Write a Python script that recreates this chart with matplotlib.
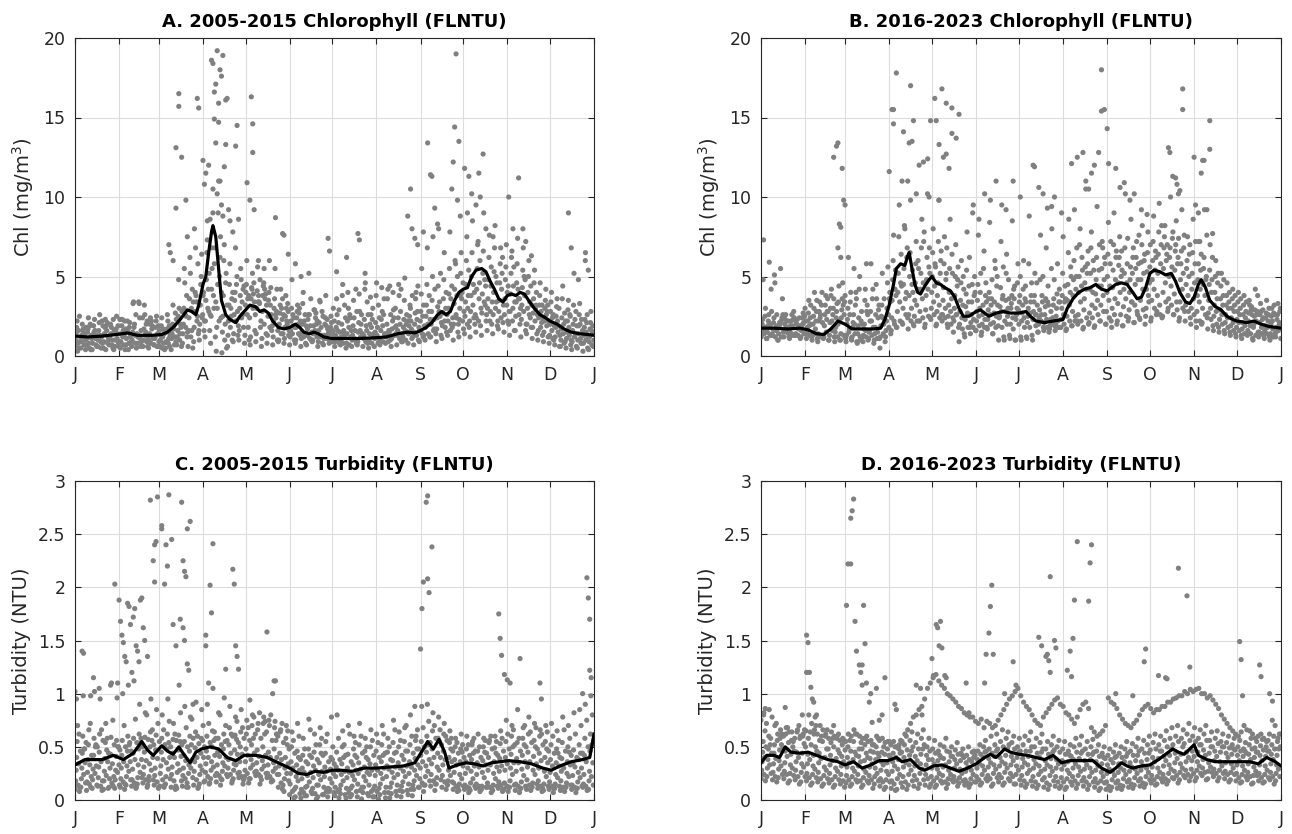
import matplotlib
matplotlib.use("Agg")
import matplotlib.pyplot as plt

plt.rcParams['font.family'] = ['DejaVu Sans']

MONTH_LABELS = ["J", "F", "M", "A", "M", "J", "J", "A", "S", "O", "N", "D", "J"]
MONTH_START_DAYS = [1, 32, 60, 91, 121, 152, 182, 213, 244, 274, 305, 335, 366]

TITLES = ["A. 2005-2015 Chlorophyll (FLNTU)", "B. 2016-2023 Chlorophyll (FLNTU)",
          "C. 2005-2015 Turbidity (FLNTU)", "D. 2016-2023 Turbidity (FLNTU)"]
YLABELS = ["Chl (mg/m$^3$)", "Chl (mg/m$^3$)", "Turbidity (NTU)", "Turbidity (NTU)"]
CHL_TICKS = [0, 5, 10, 15, 20]
TURB_TICKS = [0, 0.5, 1, 1.5, 2, 2.5, 3]
TURB_TICK_LABELS = ["0", "0.5", "1", "1.5", "2", "2.5", "3"]

# Daily records sampled ~every 4 days; each string = one record track, "|" separates months.
# ---------------- Panel A: Chl 2005-2015 ----------------
A_TRACKS = [
    "0.6 0.5 0.7 0.4 0.6 0.5 0.7 0.6 | 0.5 0.7 0.6 0.8 0.6 0.5 0.7 | 0.6 0.5 0.4 0.7 0.8 0.6 0.9 1.0 | 1.2 0.8 0.3 0.2 0.6 0.9 1.0 | 0.8 0.7 0.9 0.6 0.8 0.7 0.9 0.8 | 0.7 0.8 0.6 0.7 0.9 0.6 0.7 0.8 | 0.6 0.7 0.5 0.6 0.7 0.6 0.5 | 0.6 0.7 0.8 0.6 0.7 0.9 0.8 0.7 | 0.9 1.0 1.2 0.9 1.1 1.3 1.0 1.2 | 1.4 1.2 1.5 1.3 1.6 1.4 1.7 | 1.5 1.3 1.6 1.2 1.4 1.1 1.0 0.9 | 0.8 0.7 0.6 0.5 0.4 0.5 0.3 0.4",
    "1.0 0.9 1.1 0.8 1.0 0.9 1.2 1.0 | 0.9 1.1 1.0 1.2 1.0 0.9 1.1 | 1.0 0.9 1.1 1.2 1.4 1.6 1.8 2.0 | 2.2 2.5 1.8 1.5 1.3 1.4 1.6 | 1.3 1.2 1.4 1.1 1.3 1.2 1.0 1.1 | 1.2 1.0 1.1 1.3 1.0 0.9 1.1 1.0 | 0.9 1.0 0.8 1.0 0.9 1.1 1.0 | 1.1 1.0 1.2 1.1 1.3 1.2 1.4 1.5 | 1.6 1.8 2.0 1.7 1.9 2.2 2.0 2.3 | 2.5 2.8 2.4 2.7 3.0 2.6 2.8 | 2.6 2.8 2.5 2.3 2.0 1.8 1.6 1.5 | 1.3 1.2 1.0 1.1 0.9 1.0 0.8 0.9",
    "1.4 1.3 1.5 1.2 1.6 1.4 1.3 1.5 | 1.4 1.6 1.5 1.3 1.7 1.4 1.2 | 1.3 1.5 1.4 1.6 2.0 2.4 2.8 3.2 | 3.5 4.2 3.0 2.5 2.2 2.6 3.0 | 3.2 3.6 3.0 2.8 2.5 2.2 2.0 1.8 | 1.6 1.8 1.5 1.7 1.4 1.6 1.3 1.4 | 1.3 1.2 1.4 1.3 1.5 1.3 1.4 | 1.5 1.6 1.4 1.7 1.6 1.8 1.9 2.0 | 2.2 2.5 2.8 2.4 2.7 3.0 3.3 3.0 | 3.4 3.8 4.2 3.9 3.6 4.0 3.5 | 3.6 3.9 3.4 3.2 3.0 2.7 2.4 2.2 | 2.0 1.8 1.7 1.5 1.6 1.4 1.3 1.2",
    "1.8 2.0 1.7 1.9 2.1 1.8 2.0 1.7 | 1.9 2.2 3.3 3.4 3.2 2.0 1.8 | 1.9 1.7 2.0 2.5 3.0 3.6 4.0 4.5 | 4.8 5.5 4.5 3.8 3.2 3.5 3.8 | 4.0 4.3 4.1 3.8 3.5 3.0 2.7 2.5 | 2.2 2.4 2.0 2.3 1.9 2.1 2.0 1.8 | 1.8 2.0 2.2 1.9 2.1 2.3 2.0 | 2.1 2.3 2.0 2.2 2.4 2.3 2.5 2.7 | 2.8 3.2 3.5 3.1 3.6 3.9 4.2 3.8 | 4.5 5.0 5.5 5.2 4.8 5.3 4.6 | 4.8 5.2 4.6 4.3 4.0 3.6 3.2 3.0 | 2.8 2.5 2.4 2.2 2.0 1.9 1.8 1.7",
    "2.2 1.6 2.4 1.5 2.6 2.3 1.4 2.5 | 2.3 1.5 3.4 3.3 2.6 2.4 2.2 | 2.4 2.6 3.2 4.8 5.5 6.2 6.8 5.0 | 6.5 7.8 9.0 6.0 4.5 4.0 5.5 | 4.5 4.2 5.6 4.4 4.0 3.6 3.2 3.8 | 3.0 2.8 3.3 2.6 2.9 3.5 2.4 2.5 | 3.6 3.8 4.0 3.5 3.9 4.2 3.7 | 3.8 4.3 3.6 4.0 4.5 3.5 3.2 3.6 | 3.9 4.5 5.0 4.4 4.8 5.5 6.0 5.2 | 6.0 6.5 7.0 6.6 6.2 6.8 5.8 | 5.6 6.2 5.8 5.4 5.0 4.6 3.8 3.5 | 3.4 3.1 3.6 2.9 3.2 2.6 2.3 2.1",
    "0.3 1.7 0.8 2.3 1.3 0.4 1.8 1.1 | 1.2 0.4 1.8 2.4 1.3 0.8 2.5 | 0.5 2.2 1.7 3.0 4.6 5.2 3.8 6.4 | 8.5 10.5 11.0 7.0 5.8 6.8 4.8 | 6.0 5.2 3.4 4.6 6.0 5.5 4.2 3.0 | 4.8 3.2 4.0 5.2 2.9 3.4 3.8 2.1 | 2.6 4.5 3.0 2.4 2.8 4.6 2.6 | 4.6 2.8 4.2 2.9 3.8 4.9 3.0 4.0 | 5.5 6.8 7.5 8.0 6.5 7.8 5.8 6.5 | 7.5 8.5 7.2 9.0 7.6 8.2 6.8 | 7.0 6.6 7.4 6.8 6.0 5.4 4.6 4.2 | 4.0 3.6 4.4 3.5 5.2 3.3 6.0 2.8",
    "0.8 1.2 0.5 1.6 0.9 1.9 0.7 1.4 | 1.6 0.8 2.0 1.1 1.5 2.2 0.6 | 1.2 0.8 1.9 1.0 2.6 1.2 3.4 2.4 | 3.0 3.8 2.2 1.0 1.8 2.2 2.4 | 2.6 3.0 3.8 2.0 1.8 2.6 1.4 2.2 | 1.4 2.0 1.2 2.6 1.6 1.2 1.9 0.9 | 1.6 0.8 1.8 1.1 1.6 0.9 1.8 | 1.3 1.9 0.9 2.4 1.1 1.6 2.2 1.3 | 1.4 2.0 1.6 2.8 2.2 1.6 2.6 3.6 | 2.0 3.2 2.2 3.4 2.2 3.0 2.4 | 3.2 2.2 4.2 2.8 2.6 2.2 1.8 2.6 | 1.6 2.2 1.4 1.8 1.2 2.0 1.0 1.6",
    "1.6 0.7 1.9 1.1 0.5 1.6 1.0 1.9 | 0.7 1.8 1.3 0.6 2.0 1.7 1.4 | 1.7 1.1 0.7 1.4 1.8 3.0 2.2 2.6 | 4.2 3.0 5.0 2.0 3.0 4.5 3.4 | 3.6 3.9 3.4 4.2 3.2 2.4 3.0 2.0 | 2.6 1.4 2.2 1.1 2.4 1.8 1.1 1.6 | 1.1 1.6 0.7 1.6 1.2 1.9 0.8 | 1.8 0.9 1.6 1.3 2.0 1.0 1.7 2.3 | 2.5 1.4 2.3 3.4 1.8 3.6 2.4 4.0 | 3.0 4.5 3.6 4.8 2.8 5.0 4.2 | 4.0 3.0 3.6 5.0 3.4 3.0 2.8 1.9 | 2.4 1.5 2.0 1.3 2.3 1.1 1.5 0.7",
    "0.5 1.4 2.0 0.7 1.2 2.1 0.5 0.8 | 1.3 2.1 0.8 1.6 0.9 1.9 0.6 | 0.8 1.9 1.2 2.0 2.5 1.6 2.5 3.8 | 2.8 5.8 6.2 4.6 2.5 5.0 2.6 | 1.8 4.6 3.3 3.6 4.3 2.8 2.3 3.3 | 1.9 2.7 1.4 1.9 2.7 1.3 2.3 1.5 | 2.1 1.4 2.6 1.0 2.0 1.6 2.3 | 0.8 2.6 1.5 1.8 2.8 2.0 1.1 2.8 | 1.2 2.8 1.7 2.5 3.0 2.0 3.8 2.2 | 3.8 2.4 4.6 3.2 4.4 3.4 5.2 | 2.2 4.4 2.6 3.8 2.4 3.2 2.1 2.8 | 1.1 1.9 0.8 2.6 1.4 0.8 2.1 1.4",
    "2.5 1.0 0.4 1.3 2.2 0.8 2.3 0.6 | 2.2 1.2 2.6 0.9 2.2 1.1 1.9 | 1.4 0.6 2.7 1.8 3.8 4.2 5.8 4.0 | 5.2 6.8 7.5 5.2 3.6 2.8 4.2 | 3.8 3.4 4.8 3.9 2.6 4.2 3.6 2.8 | 2.4 3.0 2.6 3.6 2.0 2.8 1.7 3.0 | 2.9 3.2 2.4 4.2 2.6 3.4 3.0 | 3.2 3.6 4.4 3.0 4.2 2.6 3.8 4.4 | 3.2 3.8 4.2 5.2 4.0 4.4 5.0 4.6 | 5.4 4.0 6.0 4.4 5.6 4.6 6.2 | 4.4 5.6 3.6 4.8 4.4 4.0 3.2 3.2 | 2.6 3.0 2.7 2.5 2.8 2.3 2.6 1.9",
    "0.9 0.4 1.3 0.6 0.8 1.2 0.4 0.9 | 0.4 1.3 0.5 1.0 0.6 1.2 0.9 | 0.4 1.3 0.9 0.6 1.2 0.5 1.4 1.6 | 1.6 1.2 2.4 0.5 1.0 1.3 1.8 | 1.0 1.6 1.8 1.4 1.6 1.0 1.4 1.3 | 1.0 1.3 0.8 1.0 1.2 0.8 1.4 1.2 | 0.8 1.3 1.2 0.8 1.2 0.8 1.2 | 0.9 1.4 1.0 1.4 0.9 1.5 1.2 1.0 | 1.3 1.2 1.6 1.3 1.5 1.8 1.5 1.7 | 1.8 2.0 1.9 2.2 2.0 1.9 2.1 | 2.0 1.6 2.0 1.6 1.8 1.4 1.3 1.2 | 1.0 0.6 0.9 0.7 0.6 0.8 0.5 0.6",
    "1.2 1.8 1.1 0.6 1.9 1.0 1.6 2.3 | 1.7 0.9 1.4 2.4 1.1 0.7 1.6 | 1.5 1.4 2.3 2.8 1.5 3.4 1.6 2.2 | 2.6 3.4 4.0 3.2 4.0 1.9 4.4 | 2.4 2.6 2.2 3.2 1.9 1.6 2.6 1.6 | 1.8 2.2 1.9 1.5 2.2 2.5 1.6 2.2 | 1.5 2.4 1.6 2.8 1.4 2.6 1.4 | 2.4 1.3 2.6 1.9 1.4 2.2 1.5 1.8 | 1.9 2.3 1.4 2.1 2.6 2.4 2.0 2.8 | 2.2 2.6 3.0 2.6 3.4 2.2 3.2 | 2.8 3.4 3.0 2.0 3.2 2.6 2.4 2.2 | 1.9 1.3 2.2 1.0 1.9 1.6 1.2 1.0",
]
A_OUT_DAYS = [72, 74, 74, 76, 79, 72, 67, 68, 70, 80, 85, 87, 88, 91, 93, 92, 95, 97, 98, 101, 105, 103, 104, 99, 100,
              102, 99, 102, 100, 108, 107, 107, 106, 103, 101, 104, 98, 96, 105, 109, 110, 112, 94, 97, 115, 114, 116,
              125, 126, 126, 122, 124, 127, 130, 134, 142, 147, 148, 151, 156, 160, 179, 180, 185, 192, 200, 201, 205,
              237, 235, 238, 240, 242, 246, 249, 251, 252, 254, 256, 269, 268, 271, 267, 266, 270, 272, 275, 278, 280,
              283, 277, 288, 285, 286, 290, 295, 313, 306, 309, 316, 318, 322, 348, 350, 360, 362, 355]
A_OUT_VALS = [13.1, 16.5, 15.7, 12.5, 9.8, 9.3, 7.0, 6.5, 6.0, 7.5, 8.0, 16.2, 15.6, 12.3, 11.5, 10.8, 12.0, 18.6, 18.4,
              19.2, 18.9, 18.0, 17.6, 16.6, 17.1, 15.9, 14.9, 14.7, 13.4, 16.2, 16.1, 13.3, 11.9, 11.0, 10.2, 9.5, 9.0,
              8.6, 8.8, 9.2, 8.5, 7.8, 7.3, 6.8, 14.5, 13.2, 8.6, 16.3, 14.6, 12.8, 10.9, 9.8, 9.2, 6.0, 5.5, 8.7, 7.7,
              7.6, 6.4, 5.8, 5.0, 7.4, 6.6, 5.3, 6.2, 7.7, 7.3, 5.2, 10.5, 8.8, 8.0, 7.4, 7.0, 7.8, 13.4, 11.4, 11.3,
              9.3, 8.3, 19.0, 14.4, 13.5, 12.2, 10.5, 9.8, 8.8, 11.8, 11.3, 10.2, 9.5, 9.0, 12.7, 11.5, 10.0, 8.0, 7.5,
              11.2, 10.0, 8.0, 8.0, 7.2, 6.3, 9.0, 6.8, 6.5, 5.4, 4.8]
A_MEAN_DAYS = [1, 10, 20, 30, 38, 45, 55, 62, 66, 70, 75, 80, 83, 86, 88, 91, 93, 95, 97, 98, 100, 102, 104, 107, 110,
               114, 117, 121, 124, 128, 131, 134, 137, 140, 144, 148, 152, 156, 159, 162, 166, 169, 172, 176, 182, 190,
               200, 213, 220, 228, 235, 240, 244, 248, 252, 256, 259, 262, 265, 268, 271, 274, 277, 280, 283, 287, 290,
               293, 296, 299, 302, 305, 308, 311, 314, 317, 320, 324, 328, 332, 335, 340, 345, 350, 356, 362, 366]
A_MEAN_VALS = [1.25, 1.2, 1.25, 1.35, 1.45, 1.3, 1.3, 1.35, 1.5, 1.8, 2.3, 2.9, 2.8, 2.6, 3.2, 4.5, 5.0, 6.5, 7.8, 8.2,
               7.5, 5.5, 3.5, 2.6, 2.3, 2.1, 2.5, 2.9, 3.2, 3.1, 2.8, 2.9, 2.7, 2.2, 1.8, 1.7, 1.8, 2.0, 1.8, 1.5, 1.4,
               1.5, 1.4, 1.2, 1.1, 1.1, 1.1, 1.15, 1.2, 1.4, 1.5, 1.45, 1.6, 1.8, 2.1, 2.6, 2.8, 2.6, 2.8, 3.5, 4.0,
               4.2, 4.3, 5.0, 5.4, 5.5, 5.3, 4.7, 4.2, 3.6, 3.4, 3.8, 3.9, 3.8, 4.0, 3.9, 3.5, 3.0, 2.6, 2.4, 2.2, 2.0,
               1.7, 1.5, 1.4, 1.35, 1.3]

# ---------------- Panel B: Chl 2016-2023 ----------------
B_TRACKS = [
    "1.2 1.1 1.3 1.0 1.2 1.1 1.3 1.2 | 1.1 1.0 0.9 1.1 1.0 0.9 1.0 | 0.9 1.0 0.8 0.9 1.1 1.0 0.5 1.2 | 1.6 1.8 2.0 1.7 1.9 2.2 2.0 | 2.3 2.0 2.2 1.8 1.5 0.9 1.2 1.4 | 1.6 1.5 1.7 1.4 1.0 1.0 1.1 1.0 | 1.0 1.1 1.0 1.5 1.6 1.7 1.6 | 1.8 1.7 1.9 2.0 1.8 2.1 1.9 2.2 | 2.0 1.8 2.2 1.9 2.4 2.1 2.3 2.5 | 2.4 2.8 2.5 3.0 2.6 2.4 2.2 | 2.0 1.8 2.1 1.7 1.6 1.5 1.4 1.3 | 1.2 1.1 1.3 1.0 1.2 1.1 1.0 1.2",
    "1.6 1.5 1.7 1.4 1.6 1.5 1.4 1.6 | 1.5 1.3 1.4 1.2 1.3 1.5 1.4 | 1.3 1.2 1.4 1.3 1.5 1.4 1.2 1.6 | 2.4 2.8 3.0 2.6 2.5 2.8 2.9 | 3.0 2.8 2.6 2.5 2.2 2.0 2.3 2.1 | 2.2 2.0 2.3 2.1 2.4 2.2 2.0 2.3 | 2.2 2.1 2.3 2.0 2.1 1.9 2.0 | 2.3 2.5 2.8 2.6 2.9 2.7 3.0 3.2 | 2.8 3.0 3.3 3.1 2.9 3.2 3.5 3.0 | 3.5 3.8 4.0 3.6 3.9 3.4 3.2 | 3.0 2.8 3.0 2.7 2.5 2.3 2.1 1.9 | 1.8 1.7 1.6 1.8 1.5 1.6 1.4 1.5",
    "2.0 1.9 2.1 1.8 2.0 1.9 2.1 1.8 | 1.8 2.0 2.2 1.9 2.1 1.8 2.4 | 2.0 1.8 1.9 1.7 1.6 1.8 1.9 2.2 | 3.5 4.0 4.5 3.8 3.5 4.2 3.8 | 4.0 3.8 3.5 3.2 3.0 2.8 3.1 2.6 | 2.8 2.6 2.9 2.7 2.5 2.8 3.0 2.6 | 2.7 2.5 2.8 2.4 2.6 2.3 2.5 | 3.0 3.5 3.8 4.0 3.6 4.2 3.9 4.4 | 4.0 4.3 4.6 4.2 4.0 4.5 4.8 4.2 | 4.8 5.2 5.5 5.0 5.4 4.8 4.5 | 4.2 3.8 4.5 3.5 3.2 2.9 2.6 2.4 | 2.3 2.1 2.2 2.0 2.1 1.9 2.0 1.8",
    "2.3 2.2 2.4 2.1 2.3 2.2 2.0 2.4 | 2.2 2.5 2.8 2.6 3.0 2.4 2.9 | 2.3 2.1 2.4 2.0 2.2 2.6 2.5 3.0 | 4.8 5.2 5.5 5.0 4.6 5.2 4.8 | 5.0 4.6 4.3 4.0 3.8 3.5 3.9 3.4 | 3.5 3.2 3.6 3.4 3.1 3.5 3.3 3.0 | 3.2 3.0 3.4 2.9 3.1 2.8 3.0 | 3.8 4.5 4.8 5.0 4.6 5.2 4.8 5.5 | 5.0 5.4 5.7 5.2 4.8 5.5 5.9 5.3 | 6.0 6.4 6.8 6.2 6.6 5.8 5.5 | 5.2 4.8 5.5 4.5 4.0 3.6 3.2 3.0 | 2.8 2.6 2.7 2.5 2.6 2.4 2.5 2.3",
    "4.8 2.6 5.1 2.0 2.6 1.4 2.3 2.0 | 2.7 3.0 3.4 3.2 3.8 2.8 3.6 | 3.0 2.6 4.2 3.5 2.8 4.5 3.2 4.6 | 6.0 7.5 8.2 6.5 5.8 6.8 6.2 | 6.5 7.2 5.8 5.5 5.0 4.6 5.4 4.5 | 4.5 5.5 4.0 6.0 4.3 5.2 3.8 4.6 | 4.2 5.8 3.8 4.8 3.6 5.5 3.9 | 5.2 6.5 6.0 7.0 5.6 6.8 6.2 7.2 | 6.4 7.0 6.2 6.8 5.6 6.2 7.0 6.5 | 7.2 7.8 7.5 6.8 7.0 6.6 6.0 | 6.5 5.8 6.2 5.4 5.0 4.4 3.8 3.6 | 3.4 3.2 3.5 2.9 3.3 2.7 3.0 2.6",
    "7.3 5.9 4.6 5.5 1.8 2.6 1.3 2.7 | 3.5 4.0 2.4 3.8 4.2 3.3 4.6 | 6.2 5.5 5.0 4.2 5.8 3.6 5.2 5.6 | 7.6 9.5 8.0 9.8 7.2 8.6 10.2 | 8.0 9.8 7.5 8.6 7.0 6.0 7.8 9.0 | 7.6 6.6 8.4 5.5 7.2 6.4 8.5 5.8 | 6.0 8.8 5.2 7.6 6.8 8.0 5.8 | 7.5 8.6 9.2 8.0 10.5 7.8 9.4 6.8 | 8.4 9.0 7.5 10.2 8.6 7.2 8.2 7.8 | 8.8 9.6 8.2 10.0 8.5 9.2 7.5 | 8.6 7.2 9.2 7.0 6.0 5.2 4.6 4.2 | 4.0 3.8 3.2 4.2 2.8 3.5 2.2 3.3",
    "1.4 1.8 1.2 2.2 1.5 1.9 1.3 2.1 | 1.9 1.4 2.6 1.5 2.2 1.2 3.2 | 1.5 2.0 1.2 1.6 2.2 1.1 2.4 2.6 | 2.2 3.4 3.6 2.2 3.2 3.6 4.2 | 3.4 3.2 2.4 2.8 2.6 2.4 2.7 1.8 | 2.5 1.8 2.6 1.8 2.8 2.0 2.4 2.9 | 2.4 1.8 2.6 2.2 2.3 2.1 2.2 | 2.6 3.2 2.2 3.4 4.2 3.2 3.5 3.8 | 3.5 2.6 4.0 3.6 3.4 2.8 4.2 3.8 | 4.2 3.2 4.6 4.4 3.4 4.2 3.8 | 3.6 3.4 3.8 3.0 2.8 2.6 2.4 2.1 | 2.1 1.4 1.9 1.3 1.8 1.4 1.7 1.6",
    "1.8 1.3 1.6 1.2 1.8 1.3 1.7 1.4 | 1.3 1.7 1.2 2.3 1.6 2.0 1.3 | 1.7 1.4 1.0 1.2 1.3 1.5 1.4 1.8 | 2.0 2.2 2.6 3.0 2.2 2.4 2.5 | 2.6 2.4 3.0 2.0 2.6 1.7 1.8 2.3 | 1.9 2.3 2.0 2.5 1.8 2.5 1.7 2.0 | 1.8 2.7 1.9 2.6 1.8 2.4 1.8 | 2.0 2.2 2.5 2.2 2.4 2.4 2.6 2.8 | 2.4 3.6 2.6 2.5 3.4 2.6 2.9 3.4 | 3.0 2.6 3.4 3.2 2.9 3.0 2.8 | 2.6 2.2 2.6 2.3 2.0 2.0 1.8 1.6 | 1.6 1.9 1.4 2.2 1.4 1.8 1.2 1.9",
    "2.5 2.0 1.9 2.4 1.7 2.3 1.8 2.5 | 2.4 2.2 3.2 2.8 2.6 3.4 2.6 | 2.6 3.2 2.2 2.8 3.6 2.4 2.0 3.6 | 4.2 4.6 4.0 4.5 4.2 4.6 5.6 | 4.4 5.2 4.8 3.6 4.4 3.2 3.4 3.8 | 3.0 3.8 3.2 4.4 3.6 3.0 4.2 3.4 | 3.6 3.4 2.6 3.8 3.4 3.2 3.4 | 3.4 4.0 4.2 4.4 5.2 4.0 4.4 4.8 | 4.4 4.8 5.0 4.6 5.2 4.8 5.2 4.6 | 5.4 5.8 6.0 5.6 5.8 5.2 5.0 | 4.6 4.2 4.8 4.0 3.6 3.2 3.0 2.8 | 2.6 2.4 2.9 2.6 2.3 2.2 2.7 2.1",
    "3.0 4.2 2.6 3.6 2.2 2.8 2.4 3.0 | 3.2 2.8 4.0 3.6 3.0 4.4 3.4 | 3.4 4.0 2.8 3.2 4.2 2.9 3.6 4.0 | 5.4 6.4 6.2 5.4 6.0 7.2 6.8 | 5.8 6.0 5.2 6.4 4.8 5.0 4.4 5.0 | 4.0 4.6 3.6 5.0 3.8 4.8 3.6 3.8 | 4.4 3.8 4.6 3.4 4.4 3.6 4.2 | 4.4 5.6 5.0 6.2 5.8 6.0 5.4 6.2 | 5.8 6.2 6.6 5.8 6.2 5.8 6.0 5.6 | 6.6 7.0 6.4 7.4 6.2 6.8 6.4 | 5.8 5.4 5.0 4.8 4.6 3.8 3.4 3.2 | 3.0 2.8 3.1 2.8 2.9 2.6 3.2 2.8",
    "1.5 2.8 1.7 2.6 1.4 2.4 1.9 2.2 | 2.0 3.5 2.1 2.8 3.6 2.2 3.8 | 4.0 3.6 2.0 2.6 1.8 3.2 2.3 3.4 | 3.8 4.4 6.8 4.0 5.5 7.8 5.2 | 5.6 6.6 6.8 5.2 5.6 4.2 6.2 4.0 | 5.2 3.4 4.8 3.2 5.6 3.6 4.4 5.0 | 3.4 4.6 3.2 5.0 3.2 4.8 3.4 | 3.6 5.0 6.8 5.4 6.6 5.4 7.0 5.8 | 7.2 6.6 5.4 7.4 6.8 7.6 6.4 7.0 | 6.2 8.2 7.0 7.8 7.4 7.6 7.0 | 7.2 6.4 7.6 6.2 5.2 4.8 4.0 3.8 | 3.6 3.4 2.6 3.8 2.4 3.0 2.6 3.0",
    "1.1 1.4 1.0 1.5 1.2 1.3 1.1 1.4 | 1.2 1.1 1.3 1.0 1.2 1.0 1.1 | 1.1 0.9 1.2 1.0 0.8 1.1 0.9 1.4 | 1.8 2.1 2.4 2.0 2.2 1.8 2.4 | 1.9 2.6 2.0 2.4 1.8 1.4 1.8 1.6 | 1.3 1.8 1.4 1.9 1.2 1.3 1.0 1.2 | 1.2 1.3 1.5 1.8 1.5 1.9 1.8 | 1.6 1.9 2.2 1.7 2.0 1.8 2.2 2.0 | 2.2 2.0 1.9 2.2 2.1 2.4 2.0 2.2 | 2.6 2.4 2.8 2.6 2.2 2.8 2.4 | 2.2 2.0 2.4 1.9 1.8 1.6 1.5 1.4 | 1.3 1.4 1.1 1.5 1.3 1.2 1.4 1.1",
]
B_OUT_DAYS = [52, 54, 55, 56, 57, 58, 57, 59, 55, 60, 75, 96, 93, 94, 94, 101, 106, 107, 108, 105, 91, 100, 104, 110,
              112, 115, 118, 120, 123, 124, 128, 131, 135, 140, 126, 135, 131, 129, 138, 119, 126, 133, 150, 154, 158,
              166, 162, 170, 173, 178, 183, 192, 193, 196, 199, 202, 205, 207, 212, 219, 223, 227, 229, 231, 233, 235,
              238, 240, 240, 242, 244, 245, 250, 253, 256, 260, 263, 268, 272, 287, 288, 290, 292, 294, 293, 295, 297,
              297, 305, 306, 308, 310, 311, 312, 316, 316, 314, 318, 309]
B_OUT_VALS = [12.5, 13.2, 13.4, 8.3, 8.1, 11.8, 6.2, 9.8, 6.8, 9.5, 5.8, 17.8, 15.5, 15.5, 14.6, 14.1, 17.0, 13.5, 14.8,
              13.4, 11.6, 11.0, 11.0, 10.2, 12.0, 12.2, 12.4, 14.8, 16.2, 14.8, 16.8, 15.9, 15.6, 15.2, 13.3, 14.0, 12.7,
              12.5, 13.7, 10.0, 9.8, 11.8, 9.5, 8.6, 10.2, 11.0, 9.8, 9.5, 9.2, 11.0, 10.0, 12.0, 11.9, 10.6, 10.2, 9.3,
              9.4, 10.0, 9.0, 12.1, 12.5, 12.8, 11.0, 10.5, 11.5, 12.0, 12.8, 18.0, 15.4, 15.5, 14.3, 12.1, 11.8, 10.6,
              10.9, 9.8, 10.2, 9.2, 8.9, 13.1, 12.8, 11.3, 11.2, 10.2, 10.8, 10.4, 16.8, 15.5, 12.5, 9.5, 9.0, 11.5,
              12.3, 12.3, 14.8, 13.0, 9.2, 7.7, 7.2]
B_MEAN_DAYS = [1, 10, 20, 28, 34, 40, 45, 50, 55, 60, 65, 72, 80, 85, 88, 91, 94, 96, 99, 102, 104, 105, 107, 109, 111,
               113, 116, 119, 121, 124, 127, 130, 134, 137, 140, 143, 147, 152, 155, 158, 161, 166, 171, 176, 182, 187,
               190, 194, 200, 206, 213, 216, 220, 224, 228, 232, 236, 240, 244, 247, 250, 254, 258, 262, 265, 268, 271,
               274, 277, 281, 285, 289, 292, 295, 299, 302, 305, 308, 310, 313, 316, 320, 324, 328, 332, 335, 342, 347,
               352, 358, 366]
B_MEAN_VALS = [1.75, 1.75, 1.7, 1.75, 1.65, 1.4, 1.35, 1.7, 2.2, 2.0, 1.7, 1.7, 1.7, 1.75, 2.3, 3.2, 4.5, 5.5, 5.8, 5.7,
               6.3, 6.5, 5.5, 4.5, 4.0, 3.9, 4.4, 4.8, 5.0, 4.6, 4.5, 4.3, 4.1, 3.7, 3.0, 2.5, 2.5, 2.8, 2.9, 2.7, 2.5,
               2.7, 2.8, 2.7, 2.7, 2.8, 2.5, 2.2, 2.1, 2.2, 2.3, 3.0, 3.6, 4.0, 4.2, 4.3, 4.5, 4.2, 4.1, 4.3, 4.5, 4.6,
               4.5, 4.0, 3.6, 3.7, 4.3, 5.2, 5.4, 5.3, 5.1, 5.2, 4.7, 4.0, 3.4, 3.3, 3.7, 4.5, 4.8, 4.3, 3.5, 3.1, 2.9,
               2.5, 2.3, 2.2, 2.1, 2.2, 2.0, 1.85, 1.75]

# ---------------- Panel C: Turbidity 2005-2015 ----------------
C_TRACKS = [
    "0.10 0.12 0.09 0.11 0.13 0.10 0.12 0.11 | 0.12 0.14 0.13 0.15 0.16 0.18 0.14 | 0.13 0.15 0.12 0.11 0.13 0.12 0.14 0.15 | 0.18 0.20 0.17 0.19 0.22 0.20 0.21 | 0.22 0.20 0.23 0.19 0.21 0.18 0.12 0.08 | 0.05 0.03 0.02 0.04 0.06 0.03 0.05 0.08 | 0.04 0.06 0.02 0.05 0.03 0.07 0.04 | 0.03 0.05 0.02 0.06 0.04 0.08 0.05 0.10 | 0.12 0.14 0.13 0.15 0.12 0.14 0.10 0.09 | 0.10 0.09 0.11 0.10 0.12 0.09 0.11 | 0.10 0.12 0.09 0.11 0.10 0.12 0.11 0.09 | 0.10 0.11 0.09 0.12 0.10 0.11 0.12 0.10",
    "0.18 0.20 0.17 0.19 0.21 0.18 0.20 0.19 | 0.20 0.22 0.19 0.21 0.24 0.22 0.23 | 0.25 0.22 0.24 0.26 0.23 0.25 0.27 0.24 | 0.26 0.28 0.25 0.27 0.30 0.28 0.26 | 0.28 0.30 0.27 0.29 0.25 0.27 0.24 0.20 | 0.15 0.12 0.10 0.13 0.11 0.14 0.12 0.10 | 0.12 0.14 0.11 0.13 0.15 0.12 0.14 | 0.13 0.15 0.12 0.16 0.14 0.17 0.15 0.18 | 0.20 0.22 0.24 0.21 0.23 0.18 0.16 0.15 | 0.14 0.16 0.15 0.13 0.16 0.14 0.17 | 0.16 0.18 0.15 0.17 0.19 0.16 0.18 0.15 | 0.17 0.15 0.18 0.16 0.14 0.17 0.15 0.18",
    "0.28 0.30 0.26 0.29 0.31 0.27 0.30 0.28 | 0.30 0.32 0.29 0.33 0.31 0.34 0.30 | 0.32 0.35 0.31 0.34 0.30 0.33 0.36 0.32 | 0.34 0.36 0.33 0.35 0.38 0.34 0.36 | 0.36 0.38 0.35 0.37 0.33 0.35 0.32 0.30 | 0.25 0.22 0.20 0.23 0.21 0.24 0.22 0.20 | 0.22 0.24 0.21 0.23 0.25 0.22 0.24 | 0.23 0.25 0.22 0.26 0.24 0.27 0.25 0.28 | 0.30 0.32 0.34 0.31 0.33 0.28 0.26 0.24 | 0.25 0.27 0.24 0.26 0.28 0.25 0.27 | 0.28 0.30 0.27 0.29 0.31 0.28 0.30 0.27 | 0.26 0.24 0.27 0.25 0.23 0.26 0.24 0.27",
    "0.40 0.44 0.38 0.42 0.45 0.39 0.43 0.41 | 0.42 0.46 0.44 0.48 0.45 0.50 0.47 | 0.45 0.48 0.44 0.47 0.42 0.46 0.49 0.44 | 0.46 0.50 0.45 0.48 0.52 0.47 0.50 | 0.48 0.52 0.47 0.50 0.45 0.48 0.44 0.40 | 0.36 0.33 0.30 0.34 0.32 0.35 0.31 0.29 | 0.31 0.34 0.30 0.33 0.35 0.31 0.34 | 0.33 0.36 0.32 0.37 0.35 0.38 0.36 0.39 | 0.42 0.45 0.48 0.44 0.46 0.40 0.38 0.36 | 0.36 0.38 0.35 0.37 0.40 0.36 0.39 | 0.40 0.43 0.39 0.42 0.45 0.41 0.44 0.40 | 0.38 0.35 0.39 0.36 0.34 0.38 0.42 0.46",
    "0.55 0.60 0.52 0.58 0.62 0.54 0.59 0.56 | 0.56 0.60 0.58 0.62 0.59 0.64 0.61 | 0.58 0.62 0.57 0.61 0.55 0.60 0.64 0.58 | 0.60 0.65 0.58 0.62 0.68 0.61 0.64 | 0.62 0.70 0.66 0.72 0.75 0.68 0.64 0.58 | 0.50 0.46 0.42 0.48 0.45 0.52 0.44 0.40 | 0.45 0.50 0.43 0.48 0.52 0.46 0.50 | 0.46 0.52 0.45 0.54 0.50 0.55 0.52 0.56 | 0.55 0.60 0.65 0.58 0.62 0.54 0.50 0.48 | 0.48 0.52 0.46 0.50 0.54 0.49 0.53 | 0.55 0.60 0.54 0.58 0.62 0.56 0.60 0.55 | 0.52 0.48 0.54 0.50 0.47 0.52 0.58 0.62",
    "0.70 0.98 0.66 1.02 0.95 0.72 1.10 0.96 | 1.00 1.08 1.12 0.90 0.82 0.95 0.85 | 0.80 0.95 0.72 1.08 0.88 0.78 0.92 0.85 | 0.90 1.05 0.82 0.96 0.88 0.78 0.85 | 0.75 0.80 0.72 0.78 0.70 0.74 0.66 0.70 | 0.64 0.72 0.58 0.76 0.62 0.68 0.55 0.78 | 0.80 0.65 0.70 0.60 0.72 0.58 0.66 | 0.62 0.70 0.58 0.75 0.64 0.68 0.80 0.60 | 0.88 0.90 0.82 0.78 0.72 0.65 0.58 0.62 | 0.60 0.55 0.62 0.58 0.56 0.60 0.65 | 0.75 0.70 0.85 0.68 0.78 0.72 0.66 0.70 | 0.72 0.65 0.78 0.70 0.82 0.85 0.90 0.98",
    "0.14 0.24 0.15 0.25 0.13 0.23 0.16 0.26 | 0.17 0.27 0.16 0.26 0.19 0.28 0.17 | 0.19 0.29 0.18 0.28 0.20 0.30 0.19 0.28 | 0.22 0.31 0.23 0.32 0.24 0.33 0.22 | 0.25 0.33 0.24 0.32 0.22 0.30 0.16 0.25 | 0.08 0.18 0.07 0.17 0.06 0.19 0.08 0.16 | 0.08 0.18 0.07 0.19 0.09 0.18 0.08 | 0.08 0.20 0.07 0.21 0.09 0.22 0.10 0.23 | 0.16 0.27 0.18 0.28 0.17 0.23 0.13 0.20 | 0.12 0.20 0.13 0.21 0.12 0.20 0.14 | 0.13 0.24 0.13 0.23 0.14 0.24 0.13 0.22 | 0.13 0.21 0.12 0.22 0.12 0.21 0.13 0.22",
    "0.34 0.48 0.33 0.50 0.36 0.47 0.34 0.50 | 0.36 0.52 0.38 0.54 0.37 0.56 0.39 | 0.38 0.54 0.40 0.55 0.37 0.52 0.40 0.56 | 0.40 0.56 0.41 0.55 0.44 0.57 0.43 | 0.42 0.58 0.41 0.62 0.40 0.56 0.38 0.52 | 0.30 0.40 0.26 0.42 0.28 0.44 0.27 0.38 | 0.28 0.40 0.26 0.42 0.29 0.40 0.28 | 0.28 0.42 0.29 0.44 0.30 0.46 0.31 0.48 | 0.36 0.52 0.40 0.55 0.38 0.48 0.33 0.45 | 0.30 0.44 0.31 0.45 0.33 0.44 0.32 | 0.34 0.50 0.35 0.52 0.36 0.50 0.37 0.48 | 0.32 0.44 0.30 0.45 0.31 0.44 0.36 0.52",
    "0.62 0.48 0.72 0.52 0.66 0.58 0.75 0.50 | 0.70 0.54 0.76 0.58 0.80 0.66 0.72 | 0.66 0.74 0.62 0.82 0.68 0.76 0.60 0.70 | 0.72 0.64 0.80 0.70 0.62 0.74 0.68 | 0.68 0.78 0.82 0.74 0.80 0.62 0.72 0.65 | 0.56 0.60 0.48 0.66 0.52 0.58 0.62 0.50 | 0.58 0.52 0.62 0.54 0.60 0.50 0.56 | 0.54 0.62 0.50 0.66 0.56 0.70 0.60 0.66 | 0.68 0.74 0.70 0.66 0.60 0.58 0.54 0.52 | 0.52 0.58 0.50 0.56 0.60 0.55 0.58 | 0.62 0.66 0.58 0.70 0.64 0.68 0.62 0.64 | 0.60 0.56 0.66 0.58 0.62 0.70 0.75 0.80",
    "0.08 0.35 0.12 0.32 0.09 0.36 0.13 0.33 | 0.10 0.36 0.11 0.38 0.12 0.40 0.11 | 0.12 0.40 0.10 0.41 0.12 0.38 0.11 0.40 | 0.15 0.42 0.14 0.40 0.16 0.43 0.15 | 0.16 0.44 0.15 0.42 0.17 0.40 0.10 0.34 | 0.02 0.28 0.04 0.26 0.01 0.27 0.03 0.25 | 0.02 0.27 0.03 0.28 0.01 0.26 0.03 | 0.01 0.30 0.02 0.31 0.03 0.32 0.04 0.33 | 0.08 0.38 0.09 0.40 0.10 0.36 0.08 0.32 | 0.07 0.32 0.08 0.33 0.07 0.31 0.08 | 0.08 0.35 0.07 0.36 0.09 0.34 0.08 0.35 | 0.07 0.32 0.08 0.33 0.07 0.30 0.09 0.35",
    "0.12 0.16 0.22 0.14 0.18 0.11 0.22 0.14 | 0.15 0.19 0.12 0.21 0.14 0.19 0.12 | 0.14 0.20 0.13 0.18 0.16 0.21 0.12 0.17 | 0.16 0.23 0.20 0.24 0.18 0.25 0.19 | 0.20 0.26 0.22 0.25 0.19 0.24 0.14 0.18 | 0.10 0.06 0.12 0.08 0.14 0.05 0.11 0.07 | 0.10 0.05 0.11 0.08 0.12 0.06 0.10 | 0.11 0.07 0.12 0.08 0.13 0.09 0.14 0.12 | 0.14 0.18 0.15 0.19 0.16 0.17 0.12 0.13 | 0.11 0.13 0.10 0.12 0.11 0.13 0.10 | 0.12 0.14 0.11 0.13 0.12 0.15 0.11 0.13 | 0.11 0.13 0.12 0.14 0.11 0.13 0.10 0.14",
    "0.46 0.54 0.42 0.50 0.56 0.44 0.52 0.47 | 0.50 0.46 0.54 0.50 0.57 0.52 0.55 | 0.52 0.50 0.56 0.52 0.50 0.58 0.53 0.50 | 0.54 0.58 0.52 0.56 0.60 0.54 0.58 | 0.56 0.62 0.58 0.64 0.56 0.60 0.54 0.48 | 0.44 0.38 0.36 0.40 0.38 0.42 0.36 0.34 | 0.38 0.42 0.36 0.40 0.44 0.38 0.42 | 0.40 0.44 0.38 0.45 0.42 0.46 0.44 0.48 | 0.50 0.54 0.58 0.52 0.56 0.46 0.44 0.40 | 0.42 0.46 0.40 0.44 0.48 0.42 0.46 | 0.48 0.52 0.46 0.50 0.54 0.48 0.52 0.46 | 0.44 0.40 0.46 0.42 0.40 0.44 0.50 0.56",
]
C_OUT_DAYS = [1, 2, 6, 7, 12, 14, 18, 26, 29, 31, 32, 33, 34, 35, 36, 37, 38, 39, 40, 41, 42, 43, 44, 45, 46, 47, 48, 49,
              50, 52, 54, 56, 57, 57, 58, 59, 62, 62, 64, 65, 66, 67, 69, 70, 72, 75, 76, 77, 78, 79, 80, 82, 77, 78,
              80, 81, 84, 93, 93, 96, 98, 97, 95, 112, 113, 114, 115, 116, 107, 124, 136, 142, 141, 140, 244, 245, 246,
              249, 248, 249, 250, 252, 240, 299, 300, 301, 303, 305, 307, 314, 328, 329, 358, 361, 362, 363, 363, 364]
C_OUT_VALS = [1.02, 0.95, 1.40, 1.38, 0.98, 1.15, 1.05, 1.08, 2.03, 1.10, 1.88, 1.68, 1.55, 1.48, 1.35, 1.30, 1.85,
              1.82, 1.65, 1.20, 1.72, 1.80, 1.45, 1.40, 1.30, 1.88, 1.90, 1.62, 1.50, 1.35, 2.82, 2.25, 2.40, 2.05,
              2.43, 2.85, 2.58, 2.55, 2.03, 2.40, 2.20, 2.87, 2.45, 1.65, 1.45, 1.70, 2.80, 2.25, 2.15, 2.10, 2.55,
              2.62, 1.62, 1.50, 1.28, 1.22, 0.90, 1.55, 1.45, 2.02, 2.41, 1.76, 1.10, 2.17, 2.03, 1.45, 1.35, 1.23,
              1.23, 0.94, 1.58, 1.12, 1.12, 1.00, 1.42, 1.80, 2.05, 2.08, 2.80, 2.86, 1.95, 2.38, 0.88, 1.75, 1.52,
              1.36, 1.18, 1.13, 1.10, 1.33, 1.10, 0.95, 1.00, 2.09, 1.90, 1.70, 1.22, 1.15]
C_MEAN_DAYS = [1, 8, 20, 28, 35, 42, 48, 52, 56, 62, 66, 70, 74, 78, 82, 86, 90, 96, 102, 108, 114, 120, 128, 136, 144,
               152, 158, 164, 170, 176, 182, 188, 196, 204, 213, 222, 232, 240, 246, 249, 253, 257, 261, 264, 270, 276,
               282, 288, 294, 300, 306, 314, 322, 330, 336, 342, 350, 358, 363, 366]
C_MEAN_VALS = [0.33, 0.38, 0.38, 0.42, 0.38, 0.44, 0.55, 0.47, 0.42, 0.51, 0.46, 0.43, 0.50, 0.42, 0.35, 0.45, 0.48,
               0.50, 0.48, 0.40, 0.37, 0.42, 0.42, 0.40, 0.35, 0.30, 0.25, 0.24, 0.27, 0.26, 0.28, 0.28, 0.27, 0.30,
               0.30, 0.31, 0.32, 0.35, 0.48, 0.55, 0.48, 0.57, 0.45, 0.30, 0.33, 0.35, 0.34, 0.32, 0.35, 0.36, 0.37,
               0.36, 0.34, 0.30, 0.28, 0.32, 0.36, 0.38, 0.40, 0.62]

# ---------------- Panel D: Turbidity 2016-2023 ----------------
D_TRACKS = [
    "0.20 0.22 0.19 0.21 0.20 0.18 0.19 0.17 | 0.18 0.16 0.17 0.15 0.16 0.14 0.15 | 0.16 0.15 0.17 0.14 0.16 0.15 0.13 0.12 | 0.11 0.10 0.12 0.14 0.13 0.15 0.14 | 0.15 0.14 0.16 0.15 0.17 0.16 0.14 0.15 | 0.17 0.16 0.18 0.15 0.17 0.16 0.18 0.15 | 0.14 0.15 0.13 0.14 0.12 0.14 0.13 | 0.13 0.12 0.14 0.15 0.13 0.14 0.12 0.11 | 0.10 0.12 0.11 0.13 0.12 0.14 0.13 0.15 | 0.16 0.15 0.17 0.18 0.20 0.19 0.21 | 0.22 0.21 0.23 0.20 0.22 0.21 0.20 0.19 | 0.18 0.17 0.19 0.16 0.18 0.17 0.19 0.18",
    "0.28 0.30 0.26 0.29 0.27 0.25 0.28 0.26 | 0.25 0.24 0.26 0.23 0.25 0.22 0.24 | 0.23 0.22 0.24 0.21 0.23 0.22 0.20 0.19 | 0.18 0.20 0.22 0.24 0.23 0.25 0.24 | 0.22 0.21 0.23 0.20 0.22 0.21 0.19 0.20 | 0.22 0.24 0.23 0.25 0.24 0.26 0.25 0.24 | 0.23 0.25 0.22 0.24 0.21 0.23 0.22 | 0.21 0.20 0.22 0.23 0.21 0.22 0.20 0.18 | 0.17 0.19 0.18 0.20 0.19 0.21 0.20 0.22 | 0.23 0.22 0.24 0.25 0.27 0.26 0.28 | 0.29 0.28 0.30 0.27 0.29 0.28 0.27 0.26 | 0.25 0.24 0.26 0.23 0.25 0.24 0.26 0.25",
    "0.36 0.38 0.34 0.37 0.35 0.33 0.36 0.34 | 0.34 0.32 0.35 0.31 0.33 0.30 0.32 | 0.31 0.30 0.32 0.29 0.31 0.30 0.28 0.27 | 0.27 0.29 0.31 0.33 0.32 0.34 0.33 | 0.30 0.29 0.31 0.28 0.30 0.29 0.27 0.28 | 0.30 0.32 0.31 0.33 0.32 0.34 0.33 0.32 | 0.31 0.33 0.30 0.32 0.29 0.31 0.30 | 0.29 0.28 0.30 0.31 0.29 0.30 0.28 0.26 | 0.25 0.27 0.26 0.28 0.27 0.29 0.28 0.30 | 0.31 0.30 0.32 0.33 0.35 0.34 0.36 | 0.37 0.36 0.38 0.35 0.37 0.36 0.35 0.34 | 0.33 0.32 0.34 0.31 0.33 0.32 0.34 0.33",
    "0.45 0.48 0.44 0.47 0.46 0.43 0.45 0.44 | 0.43 0.42 0.44 0.40 0.42 0.39 0.41 | 0.40 0.38 0.41 0.37 0.39 0.38 0.36 0.35 | 0.36 0.38 0.40 0.42 0.41 0.43 0.42 | 0.38 0.37 0.39 0.36 0.38 0.37 0.35 0.36 | 0.38 0.40 0.39 0.41 0.40 0.42 0.41 0.40 | 0.39 0.41 0.38 0.40 0.37 0.39 0.38 | 0.37 0.36 0.38 0.39 0.37 0.38 0.36 0.34 | 0.33 0.35 0.34 0.36 0.35 0.37 0.36 0.38 | 0.40 0.39 0.41 0.42 0.44 0.43 0.45 | 0.46 0.45 0.47 0.44 0.46 0.45 0.44 0.43 | 0.42 0.41 0.43 0.40 0.42 0.41 0.43 0.42",
    "0.55 0.60 0.52 0.58 0.62 0.56 0.64 0.60 | 0.58 0.62 0.56 0.60 0.54 0.58 0.52 | 0.50 0.55 0.48 0.52 0.46 0.50 0.45 0.48 | 0.44 0.48 0.52 0.56 0.54 0.58 0.50 | 0.48 0.46 0.50 0.45 0.47 0.44 0.42 0.45 | 0.46 0.50 0.48 0.52 0.55 0.58 0.54 0.50 | 0.52 0.56 0.50 0.54 0.48 0.52 0.50 | 0.48 0.46 0.50 0.52 0.48 0.50 0.46 0.44 | 0.42 0.45 0.44 0.48 0.46 0.50 0.48 0.52 | 0.54 0.52 0.56 0.58 0.60 0.58 0.62 | 0.60 0.58 0.62 0.56 0.58 0.55 0.54 0.52 | 0.50 0.48 0.52 0.49 0.51 0.50 0.52 0.55",
    "0.80 0.85 0.70 0.66 0.68 0.64 0.66 0.62 | 0.80 0.66 0.70 0.62 0.64 0.60 0.58 | 0.62 0.66 0.60 0.58 0.56 0.60 0.58 0.55 | 0.55 0.52 0.62 0.72 0.80 0.88 1.05 | 1.15 1.12 1.05 0.98 0.92 0.86 0.80 0.78 | 0.72 0.68 0.72 0.70 0.80 0.90 0.98 1.05 | 0.92 0.85 0.75 0.70 0.82 0.90 0.96 | 0.88 0.80 0.72 0.85 0.92 0.68 0.60 0.65 | 0.96 0.90 0.80 0.72 0.68 0.75 0.85 0.90 | 0.82 0.85 0.88 0.92 0.96 0.98 1.00 | 1.02 1.05 1.00 0.98 0.90 0.80 0.72 0.65 | 0.60 0.70 0.65 0.58 0.62 0.55 0.75 0.58",
    "0.24 0.33 0.22 0.32 0.24 0.30 0.22 0.31 | 0.21 0.29 0.20 0.28 0.19 0.27 0.18 | 0.19 0.27 0.18 0.26 0.19 0.25 0.17 0.24 | 0.15 0.24 0.17 0.28 0.19 0.29 0.20 | 0.18 0.25 0.17 0.24 0.18 0.25 0.16 0.24 | 0.19 0.28 0.20 0.29 0.21 0.30 0.22 0.28 | 0.18 0.28 0.17 0.27 0.16 0.27 0.17 | 0.17 0.25 0.18 0.27 0.17 0.26 0.16 0.22 | 0.13 0.23 0.14 0.24 0.15 0.25 0.16 0.26 | 0.19 0.26 0.20 0.29 0.23 0.30 0.24 | 0.25 0.32 0.26 0.31 0.25 0.32 0.24 0.30 | 0.21 0.28 0.22 0.27 0.21 0.28 0.22 0.29",
    "0.40 0.52 0.39 0.52 0.41 0.50 0.40 0.53 | 0.38 0.50 0.39 0.48 0.37 0.47 0.36 | 0.35 0.45 0.36 0.44 0.34 0.44 0.33 0.42 | 0.32 0.44 0.35 0.46 0.37 0.48 0.38 | 0.34 0.42 0.33 0.41 0.34 0.42 0.31 0.40 | 0.34 0.45 0.35 0.46 0.36 0.48 0.37 0.45 | 0.35 0.46 0.34 0.45 0.33 0.45 0.34 | 0.33 0.42 0.34 0.44 0.33 0.43 0.32 0.40 | 0.29 0.40 0.30 0.41 0.31 0.42 0.32 0.44 | 0.36 0.46 0.37 0.48 0.39 0.50 0.40 | 0.41 0.52 0.42 0.50 0.41 0.50 0.40 0.48 | 0.37 0.46 0.38 0.45 0.37 0.46 0.38 0.48",
    "0.65 0.58 0.72 0.62 0.68 0.55 0.70 0.66 | 0.64 0.70 0.60 0.66 0.58 0.62 0.56 | 0.56 0.62 0.54 0.60 0.52 0.58 0.50 0.55 | 0.50 0.56 0.60 0.64 0.62 0.66 0.58 | 0.56 0.52 0.58 0.50 0.54 0.48 0.50 0.46 | 0.52 0.56 0.60 0.62 0.66 0.64 0.60 0.58 | 0.60 0.64 0.58 0.62 0.55 0.60 0.56 | 0.55 0.52 0.58 0.60 0.55 0.57 0.52 0.50 | 0.48 0.52 0.50 0.55 0.53 0.58 0.56 0.60 | 0.62 0.60 0.65 0.68 0.70 0.66 0.72 | 0.68 0.66 0.70 0.64 0.65 0.62 0.60 0.58 | 0.56 0.54 0.58 0.55 0.57 0.56 0.60 0.62",
    "0.18 0.25 0.17 0.24 0.16 0.23 0.15 0.22 | 0.14 0.21 0.13 0.20 0.12 0.19 0.12 | 0.13 0.19 0.12 0.18 0.11 0.18 0.10 0.17 | 0.09 0.16 0.10 0.18 0.11 0.19 0.12 | 0.12 0.18 0.11 0.19 0.13 0.18 0.12 0.17 | 0.14 0.20 0.13 0.21 0.14 0.20 0.15 0.19 | 0.12 0.18 0.11 0.19 0.10 0.18 0.11 | 0.10 0.17 0.11 0.18 0.10 0.17 0.09 0.16 | 0.09 0.16 0.10 0.17 0.11 0.18 0.12 0.19 | 0.14 0.20 0.15 0.21 0.16 0.23 0.18 | 0.18 0.25 0.19 0.26 0.18 0.25 0.17 0.24 | 0.16 0.22 0.15 0.23 0.16 0.21 0.15 0.22",
    "0.50 0.44 0.56 0.48 0.54 0.46 0.58 0.50 | 0.52 0.46 0.55 0.48 0.50 0.44 0.47 | 0.46 0.42 0.48 0.40 0.45 0.41 0.43 0.40 | 0.40 0.45 0.47 0.50 0.48 0.52 0.46 | 0.44 0.40 0.46 0.41 0.43 0.40 0.38 0.42 | 0.43 0.46 0.44 0.48 0.50 0.52 0.48 0.46 | 0.46 0.50 0.44 0.48 0.43 0.47 0.45 | 0.43 0.41 0.45 0.46 0.43 0.45 0.41 0.39 | 0.38 0.41 0.40 0.44 0.42 0.46 0.44 0.47 | 0.48 0.46 0.50 0.52 0.55 0.53 0.56 | 0.55 0.52 0.56 0.50 0.53 0.50 0.49 0.47 | 0.46 0.44 0.48 0.45 0.47 0.46 0.48 0.50",
    "0.72 0.78 0.62 0.60 0.64 0.58 0.60 0.65 | 0.72 0.62 0.66 0.58 0.60 0.56 0.55 | 0.60 0.62 0.58 0.55 0.52 0.56 0.54 0.52 | 0.50 0.55 0.66 0.78 0.85 0.95 1.10 | 1.18 1.08 1.00 0.95 0.88 0.82 0.78 0.74 | 0.76 0.74 0.68 0.75 0.85 0.95 1.02 0.98 | 0.88 0.80 0.72 0.78 0.86 0.94 0.90 | 0.82 0.76 0.78 0.90 0.86 0.64 0.62 0.70 | 0.92 0.86 0.76 0.70 0.72 0.80 0.88 0.86 | 0.85 0.88 0.92 0.95 0.98 1.02 1.04 | 1.04 1.00 0.96 0.94 0.86 0.76 0.68 0.62 | 0.64 0.66 0.62 0.60 0.58 0.62 0.70 0.62",
]
D_OUT_DAYS = [1, 3, 4, 18, 30, 33, 34, 33, 35, 36, 37, 38, 39, 40, 52, 61, 62, 64, 64, 65, 66, 67, 68, 70, 71, 72, 73,
              74, 72, 75, 77, 78, 79, 82, 86, 88, 84, 95, 96, 110, 113, 114, 121, 122, 124, 125, 127, 126, 128, 130,
              131, 145, 147, 161, 162, 163, 159, 164, 158, 178, 180, 172, 196, 198, 204, 207, 208, 201, 202, 203, 204,
              221, 223, 220, 218, 216, 219, 233, 232, 231, 250, 262, 270, 271, 280, 286, 285, 294, 300, 302, 337, 338,
              339, 351, 352, 358, 360]
D_OUT_VALS = [0.75, 0.82, 0.86, 0.87, 0.80, 1.55, 1.48, 1.20, 1.20, 1.06, 0.95, 0.92, 0.78, 0.80, 0.70, 1.83, 2.22,
              2.22, 2.65, 2.72, 2.83, 1.68, 1.40, 1.27, 1.20, 1.27, 1.83, 1.47, 1.08, 1.10, 0.92, 1.00, 0.73, 1.05,
              0.80, 1.15, 0.75, 0.90, 0.85, 1.08, 1.05, 0.80, 1.33, 1.17, 1.65, 1.62, 1.68, 1.45, 1.43, 1.17, 1.15,
              1.10, 0.82, 1.57, 1.82, 2.02, 1.37, 1.37, 1.10, 1.30, 1.08, 1.00, 1.53, 1.45, 2.10, 1.50, 1.43, 1.35,
              1.37, 1.31, 1.20, 1.88, 2.43, 1.52, 1.40, 1.22, 1.16, 2.40, 2.23, 1.87, 1.00, 0.98, 1.30, 1.42, 1.17,
              1.14, 1.15, 2.18, 1.92, 1.25, 1.49, 1.32, 0.98, 1.27, 1.16, 1.00, 0.93]
D_MEAN_DAYS = [1, 5, 10, 14, 18, 22, 28, 34, 40, 48, 55, 60, 66, 72, 78, 84, 90, 96, 100, 106, 112, 116, 122, 128, 134,
               140, 146, 152, 158, 162, 166, 172, 176, 182, 188, 194, 200, 206, 212, 218, 226, 234, 240, 246, 250, 254,
               258, 262, 268, 274, 280, 286, 290, 294, 298, 302, 305, 308, 314, 320, 326, 332, 338, 344, 350, 356, 362,
               366]
D_MEAN_VALS = [0.35, 0.42, 0.42, 0.40, 0.50, 0.45, 0.44, 0.45, 0.42, 0.38, 0.36, 0.33, 0.36, 0.30, 0.33, 0.37, 0.37,
               0.40, 0.36, 0.38, 0.30, 0.28, 0.32, 0.33, 0.30, 0.27, 0.30, 0.34, 0.40, 0.43, 0.40, 0.48, 0.45, 0.43,
               0.42, 0.40, 0.38, 0.42, 0.35, 0.37, 0.37, 0.37, 0.30, 0.26, 0.30, 0.35, 0.32, 0.30, 0.32, 0.33, 0.38,
               0.44, 0.48, 0.45, 0.43, 0.48, 0.52, 0.42, 0.38, 0.36, 0.36, 0.36, 0.36, 0.36, 0.34, 0.40, 0.36, 0.32]

PANELS = [
    (A_TRACKS, A_OUT_DAYS, A_OUT_VALS, A_MEAN_DAYS, A_MEAN_VALS),
    (B_TRACKS, B_OUT_DAYS, B_OUT_VALS, B_MEAN_DAYS, B_MEAN_VALS),
    (C_TRACKS, C_OUT_DAYS, C_OUT_VALS, C_MEAN_DAYS, C_MEAN_VALS),
    (D_TRACKS, D_OUT_DAYS, D_OUT_VALS, D_MEAN_DAYS, D_MEAN_VALS),
]


def parse_track(s):
    return [float(v) for v in s.replace("|", " ").split()]


W, H = 1292, 834
fig = plt.figure(figsize=(W / 100, H / 100), dpi=100)
# pixel boxes: left, top, right, bottom
boxes = [(75, 38, 594, 356), (761, 38, 1281, 356), (75, 481, 594, 800), (761, 481, 1281, 800)]

DOT = (0.50, 0.50, 0.50)
TXT = '#262626'

for idx, (tracks, od, ov, md, mv) in enumerate(PANELS):
    l, t, r, b = boxes[idx]
    ax = fig.add_axes([l / W, 1 - b / H, (r - l) / W, (b - t) / H])
    n_tr = len(tracks)
    for k, s in enumerate(tracks):
        vals = parse_track(s)
        step = 365.0 / len(vals)
        days = [1 + step * (i + (k + 0.5) / n_tr) for i in range(len(vals))]
        ax.scatter(days, vals, s=14, color=DOT, edgecolors='none', zorder=2)
    ax.scatter(od, ov, s=14, color=DOT, edgecolors='none', zorder=2)
    ax.plot(md, mv, color='black', lw=2.3, zorder=3, solid_joinstyle='round')

    ax.set_xlim(1, 366)
    ax.set_xticks(MONTH_START_DAYS)
    ax.set_xticklabels(MONTH_LABELS)
    if idx < 2:
        ax.set_ylim(0, 20)
        ax.set_yticks(CHL_TICKS)
        ax.set_yticklabels([str(v) for v in CHL_TICKS])
    else:
        ax.set_ylim(0, 3)
        ax.set_yticks(TURB_TICKS)
        ax.set_yticklabels(TURB_TICK_LABELS)

    ax.grid(True, color='#dcdcdc', lw=0.8, zorder=0)
    ax.set_axisbelow(True)
    ax.tick_params(axis='both', direction='in', length=4, width=0.8, colors=TXT,
                   labelsize=12.5, top=True, right=True, pad=7)
    for sp in ax.spines.values():
        sp.set_color(TXT)
        sp.set_linewidth(0.8)
    ax.set_title(TITLES[idx], fontsize=13, fontweight='bold', color='black', pad=8)
    ax.set_ylabel(YLABELS[idx], fontsize=14, color=TXT, labelpad=5)

fig.savefig("out.png", dpi=100)
